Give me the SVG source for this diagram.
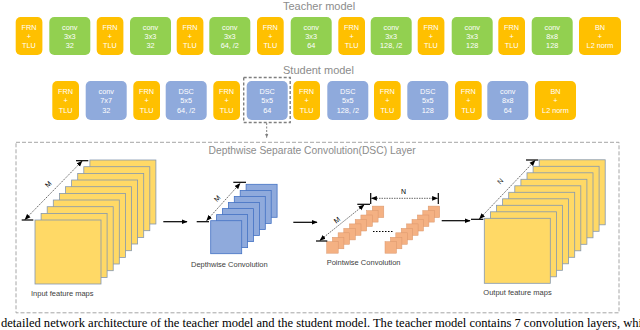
<svg xmlns="http://www.w3.org/2000/svg" width="640" height="330" viewBox="0 0 640 330">
<style>
.frn{fill:#FFC000}
.cv{fill:#92D050}
.bl{fill:#8FAADC}
.bt{font-family:"Liberation Sans",Arial,sans-serif;font-size:7.3px;fill:#fff;text-anchor:middle}
.ttl{font-family:"Liberation Sans",Arial,sans-serif;font-size:11px;fill:#8C8C8C}
.lbl{font-family:"Liberation Sans",Arial,sans-serif;font-size:7.5px;fill:#404040}
.dim{font-family:"Liberation Sans",Arial,sans-serif;font-size:7px;fill:#000;text-anchor:middle}
.y{fill:#FFD966;stroke:#8497B0;stroke-width:0.8}
.b{fill:#8FAADC;stroke:#4472C4;stroke-width:0.8}
.o{fill:#F4B183;stroke:#D9956A;stroke-width:0.5}
.dl{stroke:#000;stroke-width:0.6;stroke-dasharray:1.5 1;fill:none;marker-start:url(#ha);marker-end:url(#ha)}
.tk{stroke:#000;stroke-width:1.2}
.arr{stroke:#000;stroke-width:1.2;fill:none;marker-end:url(#ah)}
</style>
<defs>
<marker id="ah" viewBox="0 0 10 10" refX="9" refY="5" markerWidth="5" markerHeight="5" orient="auto"><path d="M0,1 L10,5 L0,9 z" fill="#000"/></marker>
<marker id="ha" viewBox="0 0 10 10" refX="9" refY="5" markerWidth="6" markerHeight="6" orient="auto-start-reverse" markerUnits="userSpaceOnUse"><path d="M0,1 L10,5 L0,9 z" fill="#000"/></marker>
<marker id="sa" viewBox="0 0 10 10" refX="9" refY="5" markerWidth="4" markerHeight="4" orient="auto"><path d="M0,1 L10,5 L0,9 z" fill="#7F7F7F"/></marker>
</defs>
<rect width="640" height="330" fill="#fff"/>

<text class="ttl" x="283" y="9.5">Teacher model</text>
<text class="ttl" x="283" y="74">Student model</text>

<g id="teacher">
<g id="t-frn1"><rect class="frn" x="15.7" y="17" width="26.7" height="38" rx="5"/><text class="bt" x="29" y="29.5">FRN</text><text class="bt" x="29" y="38.7">+</text><text class="bt" x="29" y="48">TLU</text></g>
<g id="t-conv1"><rect class="cv" x="49.3" y="17" width="41" height="38" rx="5"/><text class="bt" x="69.8" y="29.5">conv</text><text class="bt" x="69.8" y="38.7">3x3</text><text class="bt" x="69.8" y="48">32</text></g>
<g id="t-frn2"><rect class="frn" x="96.7" y="17" width="26.7" height="38" rx="5"/><text class="bt" x="110" y="29.5">FRN</text><text class="bt" x="110" y="38.7">+</text><text class="bt" x="110" y="48">TLU</text></g>
<g id="t-conv2"><rect class="cv" x="130" y="17" width="41" height="38" rx="5"/><text class="bt" x="150.5" y="29.5">conv</text><text class="bt" x="150.5" y="38.7">3x3</text><text class="bt" x="150.5" y="48">32</text></g>
<g id="t-frn3"><rect class="frn" x="176.7" y="17" width="26.7" height="38" rx="5"/><text class="bt" x="190" y="29.5">FRN</text><text class="bt" x="190" y="38.7">+</text><text class="bt" x="190" y="48">TLU</text></g>
<g id="t-conv3"><rect class="cv" x="209.3" y="17" width="41" height="38" rx="5"/><text class="bt" x="229.8" y="29.5">conv</text><text class="bt" x="229.8" y="38.7">3x3</text><text class="bt" x="229.8" y="48">64, /2</text></g>
<g id="t-frn4"><rect class="frn" x="257" y="17" width="26.7" height="38" rx="5"/><text class="bt" x="270.3" y="29.5">FRN</text><text class="bt" x="270.3" y="38.7">+</text><text class="bt" x="270.3" y="48">TLU</text></g>
<g id="t-conv4"><rect class="cv" x="290.7" y="17" width="41" height="38" rx="5"/><text class="bt" x="311.2" y="29.5">conv</text><text class="bt" x="311.2" y="38.7">3x3</text><text class="bt" x="311.2" y="48">64</text></g>
<g id="t-frn5"><rect class="frn" x="338.3" y="17" width="26.7" height="38" rx="5"/><text class="bt" x="351.6" y="29.5">FRN</text><text class="bt" x="351.6" y="38.7">+</text><text class="bt" x="351.6" y="48">TLU</text></g>
<g id="t-conv5"><rect class="cv" x="370.7" y="17" width="41" height="38" rx="5"/><text class="bt" x="391.2" y="29.5">conv</text><text class="bt" x="391.2" y="38.7">3x3</text><text class="bt" x="391.2" y="48">128, /2</text></g>
<g id="t-frn6"><rect class="frn" x="417.7" y="17" width="26.7" height="38" rx="5"/><text class="bt" x="431" y="29.5">FRN</text><text class="bt" x="431" y="38.7">+</text><text class="bt" x="431" y="48">TLU</text></g>
<g id="t-conv6"><rect class="cv" x="451.7" y="17" width="41" height="38" rx="5"/><text class="bt" x="472.2" y="29.5">conv</text><text class="bt" x="472.2" y="38.7">3x3</text><text class="bt" x="472.2" y="48">128</text></g>
<g id="t-frn7"><rect class="frn" x="498.3" y="17" width="26.7" height="38" rx="5"/><text class="bt" x="511.6" y="29.5">FRN</text><text class="bt" x="511.6" y="38.7">+</text><text class="bt" x="511.6" y="48">TLU</text></g>
<g id="t-conv7"><rect class="cv" x="531.7" y="17" width="41" height="38" rx="5"/><text class="bt" x="552.2" y="29.5">conv</text><text class="bt" x="552.2" y="38.7">8x8</text><text class="bt" x="552.2" y="48">128</text></g>
<g id="t-bn"><rect class="frn" x="579" y="17" width="42" height="38" rx="5"/><text class="bt" x="600" y="29.5">BN</text><text class="bt" x="600" y="38.7">+</text><text class="bt" x="600" y="48">L2 norm</text></g>
</g>

<g id="student">
<g id="s-frn1"><rect class="frn" x="52.3" y="81" width="26.7" height="39" rx="5"/><text class="bt" x="65.6" y="94">FRN</text><text class="bt" x="65.6" y="103.2">+</text><text class="bt" x="65.6" y="112.5">TLU</text></g>
<g id="s-conv1"><rect class="bl" x="85.7" y="81" width="41" height="39" rx="5"/><text class="bt" x="106.2" y="94">conv</text><text class="bt" x="106.2" y="103.2">7x7</text><text class="bt" x="106.2" y="112.5">32</text></g>
<g id="s-frn2"><rect class="frn" x="133.3" y="81" width="26.7" height="39" rx="5"/><text class="bt" x="146.6" y="94">FRN</text><text class="bt" x="146.6" y="103.2">+</text><text class="bt" x="146.6" y="112.5">TLU</text></g>
<g id="s-dsc1"><rect class="bl" x="165.7" y="81" width="41" height="39" rx="5"/><text class="bt" x="186.2" y="94">DSC</text><text class="bt" x="186.2" y="103.2">5x5</text><text class="bt" x="186.2" y="112.5">64, /2</text></g>
<g id="s-frn3"><rect class="frn" x="213.3" y="81" width="26.7" height="39" rx="5"/><text class="bt" x="226.6" y="94">FRN</text><text class="bt" x="226.6" y="103.2">+</text><text class="bt" x="226.6" y="112.5">TLU</text></g>
<g id="s-dsc2"><rect class="bl" x="246.7" y="81" width="41" height="39" rx="5"/><text class="bt" x="267.2" y="94">DSC</text><text class="bt" x="267.2" y="103.2">5x5</text><text class="bt" x="267.2" y="112.5">64</text>
<rect x="243.7" y="77.5" width="46.5" height="45" fill="none" stroke="#7F7F7F" stroke-width="1.4" stroke-dasharray="3 2"/></g>
<g id="s-frn4"><rect class="frn" x="293.3" y="81" width="26.7" height="39" rx="5"/><text class="bt" x="306.6" y="94">FRN</text><text class="bt" x="306.6" y="103.2">+</text><text class="bt" x="306.6" y="112.5">TLU</text></g>
<g id="s-dsc3"><rect class="bl" x="327.3" y="81" width="41" height="39" rx="5"/><text class="bt" x="347.8" y="94">DSC</text><text class="bt" x="347.8" y="103.2">5x5</text><text class="bt" x="347.8" y="112.5">128, /2</text></g>
<g id="s-frn5"><rect class="frn" x="374" y="81" width="26.7" height="39" rx="5"/><text class="bt" x="387.3" y="94">FRN</text><text class="bt" x="387.3" y="103.2">+</text><text class="bt" x="387.3" y="112.5">TLU</text></g>
<g id="s-dsc4"><rect class="bl" x="407.3" y="81" width="41" height="39" rx="5"/><text class="bt" x="427.8" y="94">DSC</text><text class="bt" x="427.8" y="103.2">5x5</text><text class="bt" x="427.8" y="112.5">128</text></g>
<g id="s-frn6"><rect class="frn" x="455" y="81" width="26.7" height="39" rx="5"/><text class="bt" x="468.3" y="94">FRN</text><text class="bt" x="468.3" y="103.2">+</text><text class="bt" x="468.3" y="112.5">TLU</text></g>
<g id="s-conv2"><rect class="bl" x="487.3" y="81" width="41" height="39" rx="5"/><text class="bt" x="507.8" y="94">conv</text><text class="bt" x="507.8" y="103.2">8x8</text><text class="bt" x="507.8" y="112.5">64</text></g>
<g id="s-bn"><rect class="frn" x="535" y="81" width="41" height="39" rx="5"/><text class="bt" x="555.5" y="94">BN</text><text class="bt" x="555.5" y="103.2">+</text><text class="bt" x="555.5" y="112.5">L2 norm</text></g>
</g>

<g id="dsc-layer">
<rect x="16" y="142.3" width="603" height="170.5" fill="none" stroke="#A6A6A6" stroke-width="1" stroke-dasharray="4 2"/>
<text x="208.5" y="153.5" font-family="Liberation Sans, Arial, sans-serif" font-size="10.3" fill="#8C8C8C">Depthwise Separate Convolution(DSC) Layer</text>
</g>

<g id="input-maps">
<rect class="y" x="89.9" y="160" width="66" height="64"/>
<rect class="y" x="83.8" y="166.7" width="66" height="64"/>
<rect class="y" x="77.7" y="173.4" width="66" height="64"/>
<rect class="y" x="71.6" y="180" width="66" height="64"/>
<rect class="y" x="65.5" y="186.7" width="66" height="64"/>
<rect class="y" x="59.4" y="193.4" width="66" height="64"/>
<rect class="y" x="53.3" y="200" width="66" height="64"/>
<rect class="y" x="47.2" y="206.7" width="66" height="64"/>
<rect class="y" x="41.1" y="213.4" width="66" height="64"/>
<rect class="y" x="35" y="220" width="66" height="64"/>
<line class="tk" x1="21.7" y1="220" x2="33.3" y2="220"/>
<line class="tk" x1="76" y1="160.7" x2="88.3" y2="160.7"/>
<line class="dl" x1="25" y1="219.5" x2="82" y2="161.2"/>
<text class="dim" x="50" y="186" transform="rotate(-46 50 186)">M</text>
<text class="lbl" x="31" y="296">Input feature maps</text>
</g>

<g id="depthwise">
<rect class="b" x="246.1" y="184.3" width="31" height="33"/>
<rect class="b" x="240.2" y="190.4" width="31" height="33"/>
<rect class="b" x="234.3" y="196.5" width="31" height="33"/>
<rect class="b" x="228.4" y="202.5" width="31" height="33"/>
<rect class="b" x="222.5" y="208.6" width="31" height="33"/>
<rect class="b" x="216.6" y="214.6" width="31" height="33"/>
<rect class="b" x="210.7" y="220.7" width="31" height="33"/>
<line class="tk" x1="196.7" y1="221.7" x2="209" y2="221.7"/>
<line class="tk" x1="233.3" y1="182.3" x2="246" y2="182.3"/>
<line class="dl" x1="206.7" y1="220.5" x2="240" y2="183.5"/>
<text class="dim" x="219" y="200" transform="rotate(-47 219 200)">M</text>
<text class="lbl" x="191" y="267">Depthwise Convolution</text>
</g>

<g id="pointwise">
<rect class="o" x="372.3" y="206.1" width="11.5" height="11.5"/>
<rect class="o" x="366.6" y="210.6" width="11.5" height="11.5"/>
<rect class="o" x="360.9" y="215" width="11.5" height="11.5"/>
<rect class="o" x="355.2" y="219.5" width="11.5" height="11.5"/>
<rect class="o" x="349.5" y="223.9" width="11.5" height="11.5"/>
<rect class="o" x="343.8" y="228.4" width="11.5" height="11.5"/>
<rect class="o" x="338.1" y="232.8" width="11.5" height="11.5"/>
<rect class="o" x="332.4" y="237.3" width="11.5" height="11.5"/>
<rect class="o" x="326.7" y="241.7" width="11.5" height="11.5"/>
<rect class="o" x="428.2" y="206.1" width="11.5" height="11.5"/>
<rect class="o" x="422.8" y="210.6" width="11.5" height="11.5"/>
<rect class="o" x="417.4" y="215" width="11.5" height="11.5"/>
<rect class="o" x="412" y="219.5" width="11.5" height="11.5"/>
<rect class="o" x="406.6" y="223.9" width="11.5" height="11.5"/>
<rect class="o" x="401.2" y="228.4" width="11.5" height="11.5"/>
<rect class="o" x="395.8" y="232.8" width="11.5" height="11.5"/>
<rect class="o" x="390.4" y="237.3" width="11.5" height="11.5"/>
<rect class="o" x="385" y="241.7" width="11.5" height="11.5"/>
<line x1="373" y1="231.5" x2="394" y2="231.5" stroke="#000" stroke-width="1" stroke-dasharray="1.5 1.5"/>
<line class="tk" x1="316" y1="241" x2="327.3" y2="241"/>
<line class="tk" x1="357.3" y1="204.3" x2="370" y2="204.3"/>
<line class="dl" x1="320" y1="240.3" x2="364" y2="205"/>
<text class="dim" x="338.5" y="222" transform="rotate(-39 338.5 222)">M</text>
<line class="tk" x1="370.7" y1="193" x2="370.7" y2="204"/>
<line class="tk" x1="438.3" y1="193" x2="438.3" y2="204"/>
<line class="dl" x1="371.5" y1="198.3" x2="437.5" y2="198.3"/>
<text class="dim" x="403.5" y="194">N</text>
<text class="lbl" x="326.7" y="265">Pointwise Convolution</text>
</g>

<g id="output-maps">
<rect class="y" x="539.2" y="159.8" width="66" height="65"/>
<rect class="y" x="533.1" y="166.3" width="66" height="65"/>
<rect class="y" x="527" y="172.8" width="66" height="65"/>
<rect class="y" x="520.9" y="179.3" width="66" height="65"/>
<rect class="y" x="514.8" y="185.8" width="66" height="65"/>
<rect class="y" x="508.7" y="192.3" width="66" height="65"/>
<rect class="y" x="502.6" y="198.8" width="66" height="65"/>
<rect class="y" x="496.5" y="205.3" width="66" height="65"/>
<rect class="y" x="490.4" y="211.8" width="66" height="65"/>
<rect class="y" x="484.3" y="218.3" width="66" height="65"/>
<line class="tk" x1="471" y1="219.3" x2="483.3" y2="219.3"/>
<line class="tk" x1="526" y1="160" x2="538.3" y2="160"/>
<line class="dl" x1="479.5" y1="218.8" x2="535" y2="160.5"/>
<text class="dim" x="502" y="183" transform="rotate(-46 502 183)">N</text>
<text class="lbl" x="483.3" y="295">Output feature maps</text>
</g>

<g id="connectors">
<line x1="266.7" y1="123" x2="266.7" y2="137.5" stroke="#7F7F7F" stroke-width="1" stroke-dasharray="2 1.5" marker-end="url(#sa)"/>
<line class="arr" x1="163.3" y1="221.7" x2="187" y2="221.7"/>
<line class="arr" x1="293.3" y1="222.3" x2="317" y2="222.3"/>
<line class="arr" x1="441.7" y1="220.7" x2="470" y2="220.7"/>
</g>

<text x="1" y="327" font-family="Liberation Serif, Times New Roman, serif" font-size="11.5" fill="#000" textLength="641" lengthAdjust="spacingAndGlyphs">detailed network architecture of the teacher model and the student model. The teacher model contains 7 convolution layers, whi</text>
</svg>
